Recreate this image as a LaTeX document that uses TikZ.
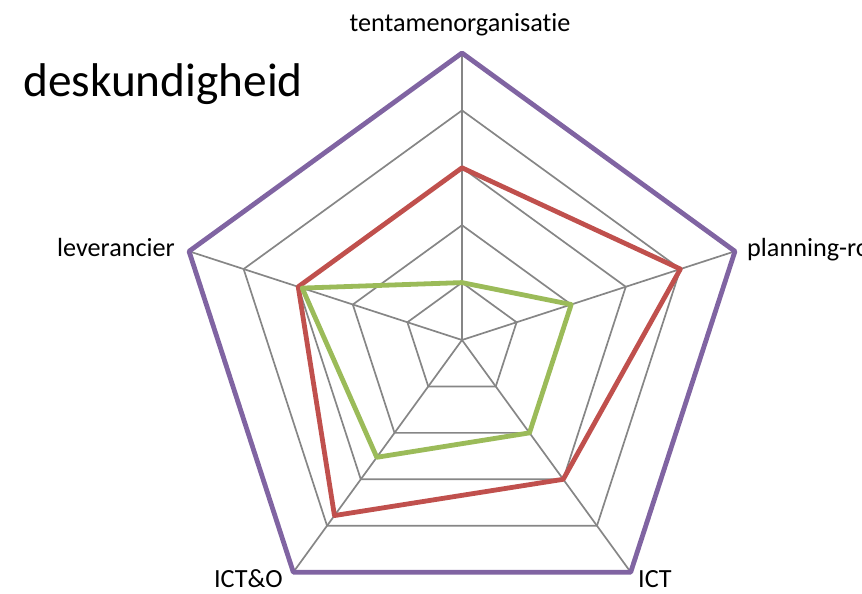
\documentclass[tikz,border=0pt]{standalone}
\usepackage{fontspec}
\setmainfont{Carlito}[Ligatures=NoCommon]
\usetikzlibrary{calc}
\definecolor{gridgray}{HTML}{868686}
\definecolor{serpurple}{HTML}{8064A2}
\definecolor{serred}{HTML}{C0504D}
\definecolor{sergreen}{HTML}{9BBB59}
\begin{document}
\begin{tikzpicture}[x=1pt,y=1pt,
  gridline/.style={draw=gridgray, line width=1.7pt},
  series/.style={line width=4.8pt, line join=round},
  axlabel/.style={inner sep=0pt, font=\fontsize{26.2}{30}\selectfont},
  titlelabel/.style={inner sep=0pt, font=\fontsize{47.3}{56}\selectfont}]
\useasboundingbox (0,0) rectangle (862,594);
\clip (0,0) rectangle (862,594);
\coordinate (O) at (462,254);
% axis ends
\coordinate (A1) at ($(O)+(90:287)$);
\coordinate (A2) at ($(O)+(18:287)$);
\coordinate (A3) at ($(O)+(-54:287)$);
\coordinate (A4) at ($(O)+(-126:287)$);
\coordinate (A5) at ($(O)+(162:287)$);
% grid rings
\foreach \k in {1,2,3,4}{
  \draw[gridline, shift={(O)}] (90:{57.4*\k}) -- (18:{57.4*\k}) -- (-54:{57.4*\k}) -- (-126:{57.4*\k}) -- (162:{57.4*\k}) -- cycle;
}
% spokes
\foreach \i in {1,...,5}{ \draw[gridline] (O) -- (A\i); }
% purple series
\draw[series, draw=serpurple] (A1) -- (A2) -- (A3) -- (A4) -- (A5) -- cycle;
% red series
\coordinate (R1) at ($(O)+(90:172.2)$);
\coordinate (R2) at ($(O)+(18:229.6)$);
\coordinate (R3) at ($(O)+(-54:172.2)$);
\coordinate (R4) at ($(O)+(-126:217)$);
\coordinate (R5) at ($(O)+(162:172.2)$);
\draw[series, draw=serred] (R1) -- (R2) -- (R3) -- (R4) -- (R5) -- cycle;
% green series
\coordinate (G1) at ($(O)+(90:57.4)$);
\coordinate (G2) at ($(O)+(18:114.8)$);
\coordinate (G3) at ($(O)+(-54:114.8)$);
\coordinate (G4) at ($(O)+(-126:145)$);
\coordinate (G5) at ($(O)+(162:168)$);
\draw[series, draw=sergreen] (G1) -- (G2) -- (G3) -- (G4) -- (G5) -- cycle;
% labels
\node[axlabel, anchor=base] (l1) at (460,562) {tentamenorganisatie};
\node[axlabel, anchor=base west] (l2) at (747,337) {planning-ro};
\node[axlabel, anchor=base east] (l5) at (175,337) {leverancier};
\node[axlabel, anchor=base east] (l4) at (283,6) {ICT\&O};
\node[axlabel, anchor=base west] (l3) at (638,6) {ICT};
\node[titlelabel, anchor=base west] (title) at (23,497) {deskundigheid};
\end{tikzpicture}
\end{document}
